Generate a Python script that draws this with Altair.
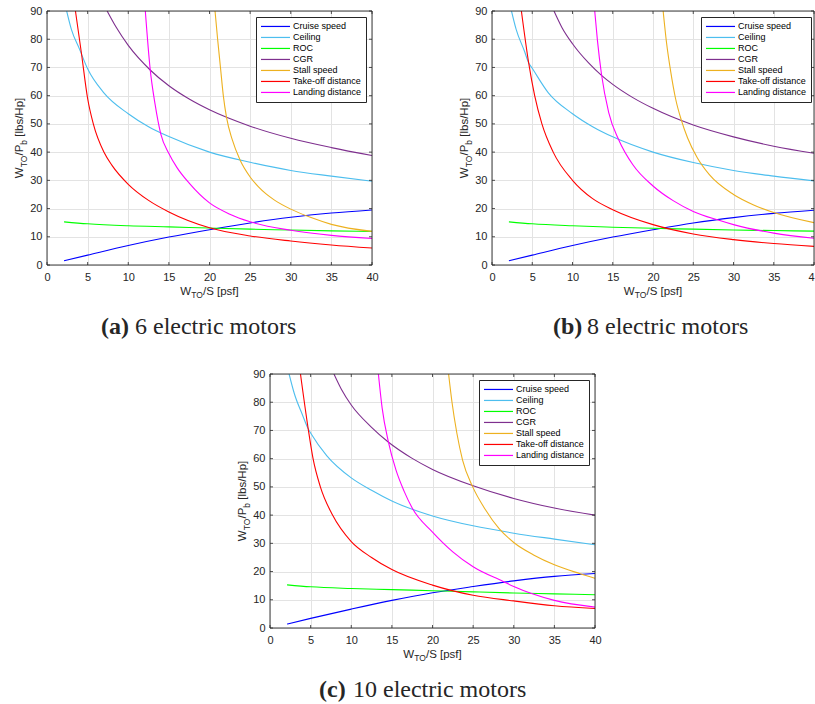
import altair as alt
import pandas as pd

NAMES = ["Cruise speed", "Ceiling", "ROC", "CGR", "Stall speed",
         "Take-off distance", "Landing distance"]
COLORS = ["#0000FF", "#4DBEEE", "#00FF00", "#7E2F8E", "#EDB120", "#FF0000", "#FF00FF"]
X_TICKS = [0, 5, 10, 15, 20, 25, 30, 35, 40]
Y_TICKS = [0, 10, 20, 30, 40, 50, 60, 70, 80, 90]

# ---------------- panel (a): 6 electric motors ----------------
A_CRUISE = [(2.1, 1.5), (5, 3.5), (10, 6.9), (15, 9.9), (20, 12.5), (25, 14.9), (30, 16.9), (35, 18.4), (40, 19.5)]
A_CEILING = [(2.42, 90), (3, 83.5), (4, 76.5), (5, 69.5), (7, 61), (10, 53.6), (12.5, 49), (15, 45.5), (20, 40),
             (25, 36.4), (30, 33.5), (35, 31.5), (40, 29.7)]
A_ROC = [(2.1, 15.3), (5, 14.6), (10, 13.9), (15, 13.5), (20, 13.1), (25, 12.7), (30, 12.4), (35, 12.1), (40, 11.9)]
A_CGR = [(7.4, 90), (8.5, 84.3), (10, 77.8), (12.7, 69.1), (15, 63.5), (17.5, 58.8), (20, 55), (25, 49.2),
         (30, 44.9), (35, 41.6), (40, 38.8)]
A_STALL = [(20.68, 90), (21.0, 80), (21.35, 70), (21.7, 60), (22.1, 52.2), (22.8, 44.4), (23.76, 37.2), (25, 31.2),
           (26, 27.8), (27, 25.1), (28, 23.0), (30, 19.8), (32.5, 16.8), (35, 14.4), (40, 11.9)]
A_TAKEOFF = [(3.5, 90), (4.23, 75.2), (5, 59), (5.7, 50), (7, 40), (8, 35.3), (10, 28.6), (12.5, 22.9), (15, 18.8),
             (20, 13.2), (25, 10.3), (30, 8.5), (35, 7.1), (40, 6.0)]
A_LANDING = [(12.1, 90), (12.7, 69.3), (13.3, 57), (14.0, 46.5), (15, 39.5), (16, 34.5), (17.5, 29), (20, 22),
             (22.5, 18), (25, 15.3), (30, 12.3), (35, 10.5), (40, 9.4)]

# ---------------- panel (b): 8 electric motors ----------------
B_CRUISE = [(2.1, 1.5), (5, 3.5), (10, 6.9), (15, 9.9), (20, 12.5), (25, 14.9), (30, 16.8), (35, 18.3), (40, 19.4)]
B_CEILING = [(2.42, 90), (3, 83.5), (4, 76), (4.55, 71.7), (5, 69.7), (7, 61), (10, 53.6), (12.5, 49), (15, 45.4),
             (20, 40), (25, 36.3), (30, 33.5), (35, 31.5), (40, 29.8)]
B_ROC = [(2.1, 15.3), (5, 14.6), (10, 13.9), (15, 13.4), (20, 13.0), (25, 12.7), (30, 12.4), (35, 12.2), (40, 12.0)]
B_CGR = [(7.7, 90), (8.7, 84.1), (10, 78.4), (12, 71.6), (13.6, 67.2), (15, 64), (17.5, 59.3), (20, 55.5),
         (25, 49.6), (30, 45.4), (35, 42.1), (40, 39.6)]
B_STALL = [(21.26, 90), (21.67, 79), (22.2, 68.5), (22.8, 59), (23.5, 51.5), (24.3, 45), (25.5, 38), (27, 32),
           (30, 25), (32.5, 21.3), (35, 18.6), (40, 15)]
B_TAKEOFF = [(3.65, 90), (4.55, 71.7), (5.3, 60), (6.2, 50), (7.6, 40), (10, 30), (12.5, 23.5), (15, 19.6),
             (20, 14.3), (25, 11), (30, 9), (35, 7.6), (40, 6.6)]
B_LANDING = [(12.76, 90), (13.1, 79.5), (13.6, 67.6), (14.5, 54), (15.75, 44.3), (17.5, 35.5), (20, 28),
             (22.5, 22.8), (25, 19), (28, 16), (30, 14.3), (35, 11.3), (40, 9.5)]

# ---------------- panel (c): 10 electric motors ----------------
C_CRUISE = [(2.1, 1.4), (5, 3.4), (10, 6.7), (15, 9.8), (20, 12.5), (25, 14.7), (30, 16.7), (35, 18.3), (40, 19.3)]
C_CEILING = [(2.35, 90), (3, 83), (4, 75.5), (4.7, 70.6), (5, 69.1), (7, 61), (10, 53.2), (12.5, 48.8), (15, 45),
             (20, 39.7), (25, 36.2), (30, 33.6), (35, 31.5), (40, 29.5)]
C_ROC = [(2.1, 15.3), (5, 14.6), (10, 14.0), (15, 13.6), (20, 13.2), (25, 12.8), (30, 12.4), (35, 12.1), (40, 11.8)]
C_CGR = [(7.87, 90), (8.8, 84.5), (10, 79), (12.5, 71.1), (14.55, 65.9), (17.5, 60.1), (20, 56.2), (25, 50.4),
         (30, 45.9), (35, 42.5), (40, 40)]
C_STALL = [(21.98, 90), (22.4, 80), (23, 69), (23.7, 59.5), (24.95, 50), (26.5, 42), (28.2, 35.2), (30, 30.3),
           (32.5, 25.8), (35, 22.4), (38.1, 19.3), (40, 17.6)]
C_TAKEOFF = [(3.75, 90), (4.7, 70.6), (5.3, 60), (6.2, 50), (7.7, 40), (10, 30.6), (12.5, 25), (15, 20.7),
             (20, 15.2), (25, 11.6), (30, 9.6), (35, 7.9), (40, 6.9)]
C_LANDING = [(13.34, 90), (13.8, 78), (14.55, 66.2), (15.5, 56), (16.5, 48.5), (17.5, 42.5), (20, 34), (22.5, 27),
             (25, 21.7), (28.7, 16.5), (30, 14.7), (35, 9.8), (40, 7.4)]

CAPTIONS = [("(a)", "6 electric motors"), ("(b)", "8 electric motors"), ("(c)", "10 electric motors")]

H = 254
SANS = "Liberation Sans"
SERIF = "Liberation Serif"
FRAME = "#262626"
GRID = "#e3e3e3"
TXT = "#262626"

one = pd.DataFrame({"k": [0]})
xs = alt.Scale(domain=[0, 40], nice=False, zero=False)
ys = alt.Scale(domain=[0, 90], nice=False, zero=False)


def series_df(all_series):
    rows = []
    for name, pts in zip(NAMES, all_series):
        for i, (x, y) in enumerate(pts):
            rows.append({"series": name, "x": x, "y": y, "i": i})
    return pd.DataFrame(rows)


def txt(s, x, y, size, angle=0, weight="normal", font=SANS, align="left", baseline="alphabetic"):
    return alt.Chart(one).mark_text(
        text=s, fontSize=size, angle=angle, fontWeight=weight, font=font,
        align=align, baseline=baseline, color=TXT
    ).encode(x=alt.value(x), y=alt.value(y))


def anchor(x, y):
    # invisible layout anchor (white hairline on the white page)
    return alt.Chart(one).mark_rule(color="white", strokeWidth=0.01).encode(
        x=alt.value(x), x2=alt.value(x + 1), y=alt.value(y))


def panel(all_series, caption, cap_x, W=325, cut_last=False, anchors=()):
    df = series_df(all_series)
    xkw = dict(values=X_TICKS, title=None, grid=True, ticks=False, domain=False, labelPadding=6,
               labelFont=SANS, labelFontSize=11, labelColor=TXT, gridColor=GRID,
               labelFlush=False, labelOverlap=False)
    if cut_last:
        xkw["labelExpr"] = "datum.value == 40 ? '4' : datum.label"
        xkw["labelAlign"] = {"condition": {"test": "datum.value == 40", "value": "right"}, "value": "center"}
    AX = alt.Axis(**xkw)
    AY = alt.Axis(values=Y_TICKS, title=None, grid=True, ticks=False, domain=False, labelPadding=5,
                  labelFont=SANS, labelFontSize=11, labelColor=TXT, gridColor=GRID,
                  labelFlush=False, labelOverlap=False)
    lines = alt.Chart(df).mark_line(strokeWidth=1.1, interpolate="monotone", clip=True).encode(
        x=alt.X("x:Q", scale=xs, axis=AX),
        y=alt.Y("y:Q", scale=ys, axis=AY),
        color=alt.Color("series:N", scale=alt.Scale(domain=NAMES, range=COLORS), sort=NAMES,
                        legend=alt.Legend(
                            orient="none", legendX=209, legendY=6, title=None,
                            symbolType="stroke", symbolSize=841, symbolStrokeWidth=1.2,
                            clipHeight=10.9, rowPadding=0, labelFont=SANS, labelFontSize=9,
                            labelColor="black", labelOffset=2, padding=4, fillColor="white",
                            strokeColor=FRAME, labelLimit=300)),
        order="i:Q",
    )
    box = alt.Chart(one).mark_rect(fillOpacity=0, stroke=FRAME, strokeWidth=0.9).encode(
        x=alt.value(0), x2=alt.value(W), y=alt.value(0), y2=alt.value(H))
    xt = alt.Chart(pd.DataFrame({"x": X_TICKS}))
    yt = alt.Chart(pd.DataFrame({"y": Y_TICKS}))
    tb = xt.mark_rule(color=FRAME, strokeWidth=0.8).encode(
        x=alt.X("x:Q", scale=xs, axis=AX), y=alt.value(H), y2=alt.value(H - 3))
    tt = xt.mark_rule(color=FRAME, strokeWidth=0.8).encode(
        x=alt.X("x:Q", scale=xs, axis=AX), y=alt.value(0), y2=alt.value(3))
    tl = yt.mark_rule(color=FRAME, strokeWidth=0.8).encode(
        y=alt.Y("y:Q", scale=ys, axis=AY), x=alt.value(0), x2=alt.value(3))
    tr = yt.mark_rule(color=FRAME, strokeWidth=0.8).encode(
        y=alt.Y("y:Q", scale=ys, axis=AY), x=alt.value(W - 3), x2=alt.value(W))

    M, S, OFF = 11.5, 8.5, 3.5
    # x-axis title  W_TO/S [psf]
    xc = W / 2
    wW, wTO, wRest = M * 0.944, S * 1.389, M * 3.113
    x0 = xc - (wW + wTO + wRest) / 2
    xb = H + 29.5
    xtitle = [txt("W", x0, xb, M), txt("TO", x0 + wW, xb + OFF, S), txt("/S [psf]", x0 + wW + wTO, xb, M)]
    # y-axis title  W_TO/P_b [lbs/Hp]  (rotated)
    yc = H / 2
    wP, wb, wR = M * 0.945, S * 0.556, M * 3.668
    tot = wW + wTO + wP + wb + wR
    yb = -24
    y0 = yc + tot / 2
    ytitle = [
        txt("W", yb, y0, M, angle=270),
        txt("TO", yb + OFF, y0 - wW, S, angle=270),
        txt("/P", yb, y0 - wW - wTO, M, angle=270),
        txt("b", yb + OFF, y0 - wW - wTO - wP, S, angle=270),
        txt("[lbs/Hp]", yb, y0 - wW - wTO - wP - wb - M * 0.278, M, angle=270),
    ]
    cs = 24
    bold, rest = caption
    cap = [txt(bold, cap_x, H + 62, cs, weight="bold", font=SERIF, baseline="middle"),
           txt(rest, cap_x + cs * 1.166 + cs * 0.25, H + 62, cs, font=SERIF, baseline="middle")]
    layers = [lines, box, tb, tt, tl, tr] + xtitle + ytitle + cap + [anchor(x, y) for x, y in anchors]
    return alt.layer(*layers).properties(width=W, height=H)


pa = panel([A_CRUISE, A_CEILING, A_ROC, A_CGR, A_STALL, A_TAKEOFF, A_LANDING], CAPTIONS[0], 54,
           anchors=[(-46, -10), (0, H + 90)])
pb = panel([B_CRUISE, B_CEILING, B_ROC, B_CGR, B_STALL, B_TAKEOFF, B_LANDING], CAPTIONS[1], 61, W=322,
           cut_last=True)
pc = panel([C_CRUISE, C_CEILING, C_ROC, C_CGR, C_STALL, C_TAKEOFF, C_LANDING], CAPTIONS[2], 49,
           anchors=[(0, -17)])

spacer = alt.layer(anchor(0, 100)).properties(width=203, height=H)

row1 = alt.hconcat(pa, pb, spacing=120, bounds="flush").resolve_scale(color="independent").resolve_legend(
    color="independent")
row2 = alt.hconcat(spacer, pc, spacing=20, bounds="flush").resolve_scale(color="independent").resolve_legend(
    color="independent")
chart = alt.vconcat(row1, row2, spacing=0, padding=0).resolve_scale(
    color="independent").resolve_legend(color="independent").configure_view(stroke="transparent")

chart.save("out.html", embed_options={"renderer": "svg", "actions": False})
